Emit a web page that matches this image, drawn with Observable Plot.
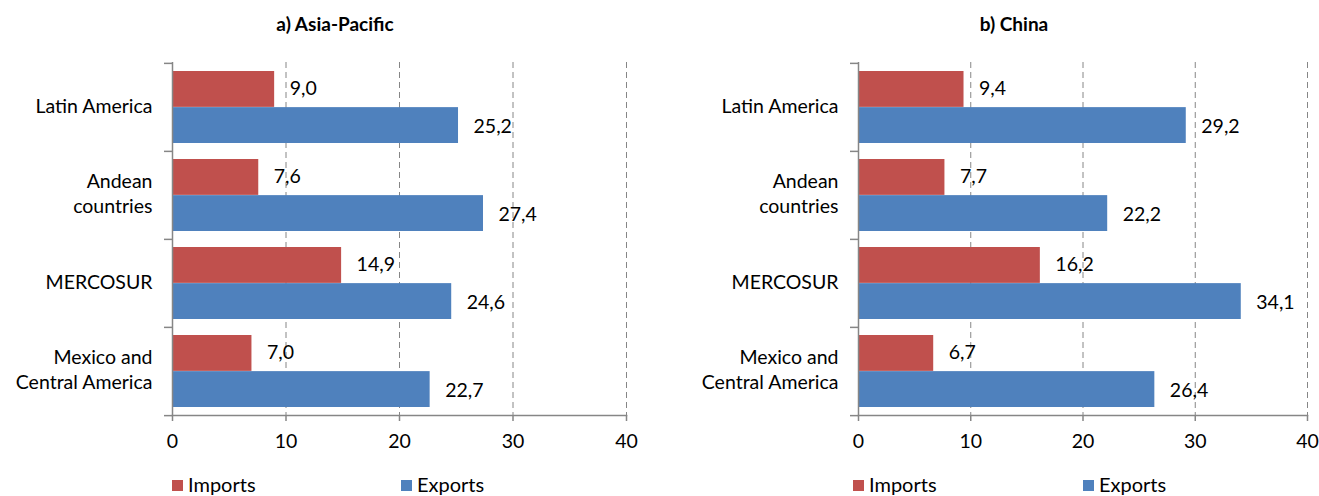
<!DOCTYPE html>
<html>
<head>
<meta charset="utf-8">
<script src="https://cdn.jsdelivr.net/npm/d3@7"></script>
<script src="https://cdn.jsdelivr.net/npm/@observablehq/plot@0.6"></script>
<style>
  html, body { margin: 0; padding: 0; background: #fff; }
  body { width: 1319px; height: 496px; overflow: hidden; font-family: Lato, "Open Sans", sans-serif; }
  #row { display: flex; flex-direction: row; }
  .col { position: relative; height: 496px; }
  .title { position: absolute; top: 12px; left: 0; right: 0; text-align: center; font-weight: bold; font-size: 19px; color: #000; }
  .svgwrap { position: absolute; top: 45px; left: 0; }
  .legend { position: absolute; top: 472px; font-size: 20px; color: #000; }
  .legend .item { position: absolute; white-space: nowrap; display: flex; align-items: center; }
  .legend .sw { display: inline-block; width: 11px; height: 11px; margin-right: 5px; margin-top: 2px; }
</style>
</head>
<body>
<div id="row"></div>
<script>
// ---- data ----
const categories = ["Latin America", "Andean\ncountries", "MERCOSUR", "Mexico and\nCentral America"];
const series = ["Imports", "Exports"];
const seriesColors = ["#C0504D", "#4F81BD"];
const panelTitles = ["a) Asia-Pacific", "b) China"];
const asiaImports = [9.0, 7.6, 14.9, 7.0];
const asiaExports = [25.2, 27.4, 24.6, 22.7];
const chinaImports = [9.4, 7.7, 16.2, 6.7];
const chinaExports = [29.2, 22.2, 34.1, 26.4];
const xTicks = [0, 10, 20, 30, 40];

const panels = [
  {title: panelTitles[0], imports: asiaImports, exports: asiaExports,
   width: 660, marginLeft: 172, marginRight: 34, titlePad: 10, legendX: [172, 401]},
  {title: panelTitles[1], imports: chinaImports, exports: chinaExports,
   width: 659, marginLeft: 198, marginRight: 12, titlePad: 49, legendX: [193, 423]}
];

const H = 420, MT = 17, MB = 50;
const step = (H - MT - MB) / categories.length;
const outer = 8;
const barH = (step - 2 * outer) / 2;
const axisGray = "#868686";
const FS = 19.5;
const fmt = v => v.toFixed(1).replace(".", ",");

const row = document.getElementById("row");

for (const p of panels) {
  const col = document.createElement("div");
  col.className = "col";
  col.style.width = p.width + "px";

  const t = document.createElement("div");
  t.className = "title";
  t.style.paddingLeft = p.titlePad + "px";
  t.textContent = p.title;
  col.appendChild(t);

  const imp = categories.map((c, i) => ({category: c, value: p.imports[i]}));
  const exp = categories.map((c, i) => ({category: c, value: p.exports[i]}));

  const chart = Plot.plot({
    width: p.width,
    height: H,
    marginTop: MT,
    marginBottom: MB,
    marginLeft: p.marginLeft,
    marginRight: p.marginRight,
    style: {fontFamily: "Lato, 'Open Sans', sans-serif", fontSize: FS + "px", color: "#000", background: "#fff"},
    x: {domain: [0, 40]},
    y: {domain: categories, padding: 0},
    marks: [
      Plot.gridX(xTicks.slice(1), {stroke: axisGray, strokeOpacity: 1, strokeDasharray: "6,4"}),
      Plot.barX(imp, {x: "value", y: "category", fill: seriesColors[0], insetTop: outer, insetBottom: outer + barH}),
      Plot.barX(exp, {x: "value", y: "category", fill: seriesColors[1], insetTop: outer + barH, insetBottom: outer}),
      Plot.text(imp, {x: "value", y: "category", text: d => fmt(d.value), dy: -barH / 2 - 1, dx: 15, textAnchor: "start", fill: "#000", fontSize: FS}),
      Plot.text(exp, {x: "value", y: "category", text: d => fmt(d.value), dy: barH / 2 + 1, dx: 15, textAnchor: "start", fill: "#000", fontSize: FS}),
      Plot.ruleX([0], {stroke: axisGray, strokeWidth: 1.5}),
      Plot.frame({anchor: "bottom", stroke: axisGray, strokeWidth: 1.5}),
      Plot.axisX(xTicks, {tickSize: 6, tickPadding: 13, stroke: axisGray, fill: "#000", strokeWidth: 1.5, label: null, fontSize: FS}),
      Plot.axisY({tickSize: 0, tickPadding: 20, fill: "#000", label: null, fontSize: FS, lineHeight: 1.3, dy: -3}),
      Plot.axisY({tickSize: 8, text: null, stroke: axisGray, strokeWidth: 1.5, dy: -step / 2, label: null}),
      Plot.axisY([categories[categories.length - 1]], {tickSize: 8, text: null, stroke: axisGray, strokeWidth: 1.5, dy: step / 2, label: null})
    ]
  });
  const wrap = document.createElement("div");
  wrap.className = "svgwrap";
  wrap.appendChild(chart);
  col.appendChild(wrap);

  const lg = document.createElement("div");
  lg.className = "legend";
  lg.style.left = "0px";
  series.forEach((s, i) => {
    const it = document.createElement("div");
    it.className = "item";
    it.style.left = p.legendX[i] + "px";
    const sw = document.createElement("span");
    sw.className = "sw";
    sw.style.background = seriesColors[i];
    it.appendChild(sw);
    it.appendChild(document.createTextNode(s));
    lg.appendChild(it);
  });
  col.appendChild(lg);

  row.appendChild(col);
}
</script>
</body>
</html>
